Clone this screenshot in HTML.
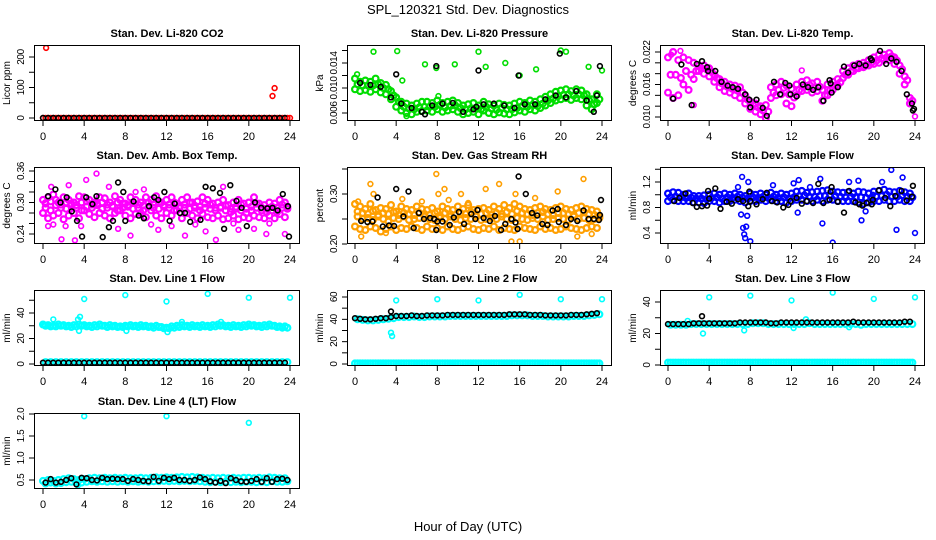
<!DOCTYPE html>
<html><head><meta charset="utf-8">
<style>
html,body{margin:0;padding:0;background:#fff;}
svg{display:block;font-family:"Liberation Sans",Arial,sans-serif;}
</style></head>
<body>
<svg id="chart" width="936" height="540" viewBox="0 0 936 540" xmlns="http://www.w3.org/2000/svg">
<rect x="0" y="0" width="936" height="540" fill="#fff"/>
<text x="468" y="14" text-anchor="middle" font-size="13">SPL_120321  Std. Dev. Diagnostics</text>
<text x="468" y="531" text-anchor="middle" font-size="13">Hour of Day (UTC)</text>
<g id="plots"></g>
</svg>
<script>
const T48=[0,0.5,1,1.5,2,2.5,3,3.5,4,4.5,5,5.5,6,6.5,7,7.5,8,8.5,9,9.5,10,10.5,11,11.5,12,12.5,13,13.5,14,14.5,15,15.5,16,16.5,17,17.5,18,18.5,19,19.5,20,20.5,21,21.5,22,22.5,23,23.5];
const T48b=[0.25,0.75,1.25,1.75,2.25,2.75,3.25,3.75,4.25,4.75,5.25,5.75,6.25,6.75,7.25,7.75,8.25,8.75,9.25,9.75,10.25,10.75,11.25,11.75,12.25,12.75,13.25,13.75,14.25,14.75,15.25,15.75,16.25,16.75,17.25,17.75,18.25,18.75,19.25,19.75,20.25,20.75,21.25,21.75,22.25,22.75,23.25,23.75];
const xTicks=[0,4,8,12,16,20,24];

// P1 CO2
const co2Red=[0,0,0,0,0,0,0,0,0,0,0,0,0,0,0,0,0,0,0,0,0,0,0,0,0,0,0,0,0,0,0,0,0,0,0,0,0,0,0,0,0,0,0,0,0,0,0,0];
const co2Black=[0,0,0,0,0,0,0,0,0,0,0,0,0,0,0,0,0,0,0,0,0,0,0,0,0,0,0,0,0,0,0,0,0,0,0,0,0,0,0,0,0,0,0,0,0,0,0,0];
const co2OutT=[0.3,22.3,22.5,24];
const co2OutV=[230,72,98,0];
// P2 pressure
const presA=[0.0115,0.011,0.0112,0.011,0.0115,0.0108,0.0105,0.0095,0.0085,0.0078,0.0075,0.0072,0.0075,0.0078,0.0078,0.0076,0.008,0.0076,0.0078,0.008,0.0076,0.0072,0.0074,0.0076,0.0072,0.0078,0.0074,0.0072,0.0075,0.0073,0.0072,0.0075,0.0078,0.0076,0.008,0.0078,0.0082,0.0086,0.009,0.0094,0.0096,0.0098,0.0095,0.0098,0.0096,0.009,0.0082,0.009];
const presB=[0.0098,0.0095,0.0097,0.0094,0.0098,0.0093,0.009,0.0082,0.007,0.0064,0.006,0.0058,0.0062,0.0063,0.0064,0.0062,0.0066,0.0062,0.0064,0.0066,0.0062,0.0058,0.006,0.0062,0.0058,0.0064,0.006,0.0058,0.0061,0.0059,0.0058,0.0061,0.0064,0.0062,0.0066,0.0064,0.0068,0.0072,0.0076,0.008,0.0082,0.0084,0.0081,0.0084,0.0082,0.0072,0.0066,0.0076];
const presC=[0.0106,0.0104,0.0104,0.0104,0.0106,0.01,0.0098,0.0088,0.0078,0.007,0.0067,0.0066,0.0069,0.007,0.007,0.007,0.0073,0.0069,0.0071,0.0072,0.0068,0.0066,0.0067,0.0068,0.0066,0.007,0.0067,0.0065,0.0068,0.0066,0.0066,0.0068,0.0071,0.007,0.0073,0.0071,0.0075,0.008,0.0083,0.0087,0.0089,0.009,0.0088,0.009,0.0088,0.008,0.0074,0.0082];
const presOutT=[0.2,1.8,4.1,4.6,6.8,7.9,8.1,9.7,12,12.7,14.6,16,17.6,20,20.5,22.7,24,5];
const presOutV=[0.0122,0.0158,0.0159,0.0112,0.0138,0.0132,0.0087,0.0138,0.0158,0.0134,0.014,0.012,0.013,0.016,0.0158,0.0134,0.0128,0.0055];
const presBlkT=[0.5,1.5,2.5,3.5,4.5,5.5,6.5,7.5,8.5,9.5,10.5,11.5,12.5,13.5,14.5,15.5,16.5,17.5,18.5,19.5,20.5,21.5,22.5,23.5,4,7.9,12,15.9,19.9,23.8,23.2,6.8,11.8];
const presBlkV=[0.0108,0.0105,0.0102,0.0085,0.0075,0.0068,0.0062,0.0072,0.0075,0.0076,0.0062,0.0066,0.0074,0.0075,0.0072,0.0068,0.0074,0.0074,0.0082,0.0088,0.0085,0.0095,0.008,0.0088,0.0122,0.0135,0.0128,0.012,0.0155,0.0135,0.0062,0.0058,0.007];
// P3 Li-820 temp
const tempA=[0.021,0.022,0.0205,0.021,0.0205,0.02,0.0195,0.0195,0.019,0.0178,0.017,0.0165,0.016,0.0158,0.0155,0.014,0.0128,0.0125,0.012,0.0122,0.0155,0.016,0.0165,0.0158,0.0152,0.016,0.0165,0.0168,0.0162,0.0165,0.015,0.016,0.0165,0.017,0.0185,0.019,0.0195,0.0198,0.02,0.0205,0.021,0.0215,0.0215,0.0218,0.021,0.0195,0.0175,0.0135];
const tempB=[0.0145,0.0135,0.014,0.016,0.015,0.017,0.0185,0.018,0.0175,0.0165,0.0155,0.0148,0.0145,0.014,0.0135,0.0125,0.0115,0.011,0.0105,0.0098,0.0135,0.014,0.0142,0.0125,0.012,0.014,0.0148,0.015,0.0145,0.0148,0.013,0.014,0.015,0.0158,0.0172,0.0178,0.0185,0.019,0.0192,0.0195,0.0198,0.02,0.0205,0.0205,0.0198,0.018,0.016,0.0125];
const tempC=[0.0178,0.0178,0.0172,0.0185,0.0178,0.0185,0.019,0.0188,0.0183,0.0172,0.0162,0.0156,0.0152,0.0149,0.0145,0.0132,0.0122,0.0118,0.0112,0.011,0.0145,0.015,0.0154,0.0142,0.0136,0.015,0.0156,0.0159,0.0154,0.0156,0.014,0.015,0.0158,0.0164,0.0178,0.0184,0.019,0.0194,0.0196,0.02,0.0204,0.0208,0.021,0.0212,0.0204,0.0188,0.0168,0.013];
const tempOutT=[2.5,13,24,0.3,1.2];
const tempOutV=[0.0122,0.0186,0.0101,0.0215,0.0222];
const tempBlkT=[0.5,1.3,2.3,2.8,3.3,3.8,3.9,4.6,5.2,5.8,6.3,6.8,7.5,7.9,8.0,8.6,9.2,9.6,10.3,10.9,11.4,11.8,11.9,12.5,13.1,13.6,14.1,14.6,15.1,15.7,15.8,15.9,16.5,17.1,17.5,18.1,18.6,19.2,19.7,19.8,20.6,21.2,21.7,22.2,22.7,23.2,23.7,23.8,23.9];
const tempBlkV=[0.0134,0.0197,0.0122,0.0198,0.0203,0.0192,0.0185,0.0185,0.0165,0.0158,0.0155,0.0152,0.0142,0.0132,0.0118,0.0132,0.0117,0.0102,0.0165,0.0142,0.0163,0.0158,0.0142,0.0138,0.016,0.0155,0.015,0.0155,0.013,0.0168,0.0162,0.0145,0.0155,0.0193,0.0182,0.0195,0.0198,0.0195,0.0208,0.0205,0.0222,0.0198,0.0208,0.0202,0.0185,0.0142,0.0125,0.0112,0.0115];
// P4 Amb box temp
const ambA=[0.305,0.31,0.315,0.3,0.31,0.305,0.3,0.312,0.31,0.305,0.3,0.31,0.308,0.3,0.312,0.305,0.298,0.31,0.305,0.3,0.31,0.305,0.312,0.3,0.305,0.31,0.298,0.305,0.31,0.3,0.302,0.31,0.305,0.298,0.3,0.305,0.295,0.3,0.305,0.298,0.3,0.31,0.298,0.295,0.3,0.298,0.305,0.3];
const ambB=[0.28,0.27,0.275,0.28,0.268,0.275,0.28,0.27,0.285,0.278,0.272,0.28,0.275,0.27,0.28,0.285,0.275,0.27,0.278,0.28,0.272,0.285,0.275,0.27,0.28,0.275,0.285,0.27,0.28,0.275,0.27,0.278,0.272,0.27,0.275,0.268,0.27,0.275,0.268,0.272,0.27,0.275,0.272,0.27,0.275,0.27,0.278,0.272];
const ambC=[0.29,0.285,0.295,0.29,0.288,0.295,0.29,0.285,0.292,0.29,0.295,0.288,0.29,0.292,0.285,0.29,0.295,0.288,0.29,0.285,0.292,0.29,0.288,0.295,0.29,0.285,0.292,0.29,0.288,0.29,0.285,0.29,0.288,0.285,0.29,0.285,0.282,0.288,0.285,0.28,0.285,0.29,0.285,0.282,0.285,0.282,0.29,0.288];
const ambD=[0.298,0.302,0.305,0.296,0.3,0.298,0.295,0.3,0.302,0.296,0.298,0.3,0.296,0.294,0.3,0.298,0.292,0.3,0.296,0.294,0.3,0.296,0.3,0.292,0.296,0.3,0.29,0.296,0.3,0.294,0.292,0.298,0.296,0.29,0.292,0.294,0.288,0.292,0.296,0.288,0.292,0.298,0.29,0.288,0.292,0.29,0.296,0.292];
const ambOutT=[0.8,2.5,1.8,3.1,4.2,5.2,7.3,8.5,9.8,11.2,13.8,16.8,17.5,20.5,21.7,23.5,15.8,6.4,0.2,1.0,2.2,9.0,12.5,19.0,22.0,0.5,3.7,10.5,14.8,18.5];
const ambOutV=[0.33,0.333,0.23,0.228,0.343,0.355,0.25,0.237,0.325,0.248,0.237,0.229,0.33,0.25,0.24,0.24,0.245,0.33,0.3,0.258,0.255,0.32,0.255,0.248,0.26,0.255,0.255,0.258,0.258,0.26];
const ambBlkT=[0.5,1.2,1.7,2.3,2.8,3.3,3.8,4.2,4.8,5.2,5.8,6.4,6.8,7.3,7.8,8.0,8.8,9.3,9.8,10.3,10.8,11.2,11.8,12.3,12.8,13.3,13.8,14.3,15.3,15.8,16.5,17.2,17.6,18.2,18.8,19.3,19.8,20.6,21.2,21.8,22.3,22.8,23.3,23.8,23.9];
const ambBlkV=[0.312,0.325,0.3,0.31,0.283,0.265,0.235,0.31,0.297,0.312,0.234,0.253,0.265,0.338,0.32,0.265,0.302,0.275,0.27,0.293,0.31,0.305,0.32,0.265,0.298,0.28,0.28,0.263,0.267,0.33,0.327,0.318,0.25,0.333,0.303,0.29,0.255,0.3,0.29,0.289,0.29,0.285,0.316,0.293,0.235];
// P5 RH
const rhA=[0.28,0.275,0.27,0.28,0.268,0.272,0.27,0.278,0.265,0.275,0.27,0.268,0.275,0.27,0.268,0.272,0.265,0.275,0.27,0.268,0.275,0.27,0.278,0.268,0.27,0.272,0.268,0.275,0.27,0.278,0.272,0.28,0.275,0.27,0.268,0.272,0.275,0.27,0.268,0.272,0.275,0.27,0.268,0.272,0.275,0.27,0.268,0.265];
const rhB=[0.235,0.23,0.228,0.235,0.232,0.225,0.23,0.235,0.228,0.232,0.23,0.235,0.232,0.228,0.235,0.23,0.232,0.228,0.235,0.23,0.228,0.232,0.235,0.23,0.228,0.232,0.23,0.235,0.228,0.232,0.23,0.228,0.235,0.232,0.23,0.228,0.235,0.23,0.232,0.228,0.23,0.235,0.232,0.23,0.228,0.232,0.235,0.232];
const rhC=[0.255,0.25,0.252,0.248,0.255,0.25,0.245,0.252,0.25,0.255,0.248,0.25,0.252,0.255,0.25,0.248,0.252,0.25,0.255,0.25,0.248,0.252,0.25,0.255,0.248,0.25,0.252,0.25,0.255,0.25,0.248,0.252,0.25,0.248,0.252,0.25,0.255,0.248,0.25,0.252,0.25,0.248,0.255,0.25,0.252,0.248,0.25,0.252];
const rhD=[0.265,0.262,0.26,0.266,0.258,0.262,0.26,0.264,0.258,0.262,0.26,0.258,0.262,0.26,0.258,0.262,0.256,0.262,0.26,0.258,0.262,0.26,0.264,0.258,0.26,0.262,0.258,0.262,0.26,0.264,0.26,0.266,0.262,0.26,0.258,0.262,0.264,0.26,0.258,0.262,0.262,0.26,0.258,0.262,0.264,0.26,0.258,0.256];
const rhOutT=[0.6,1.5,1.8,7.9,8.1,8.7,9.1,10.3,12.7,14,15.2,15.6,16,18.2,19.7,21.6,22.2,23,0.3,3.0,4.6,6.5,11.0,17.5];
const rhOutV=[0.215,0.32,0.3,0.34,0.3,0.31,0.288,0.3,0.31,0.32,0.205,0.3,0.205,0.36,0.305,0.215,0.33,0.22,0.285,0.222,0.29,0.285,0.282,0.292];
const rhBlkT=[0.6,1.2,1.7,2.2,2.7,3.3,3.8,4,4.7,5.2,5.7,6.2,6.7,7.3,7.7,7.9,8,8.5,9.2,9.6,10.1,10.6,11.3,11.7,11.9,12.5,13.1,13.6,14.2,14.6,15.2,15.6,15.8,15.9,16.6,17.2,17.7,18.2,18.7,19.2,19.7,19.8,20.5,21,21.6,22.2,22.7,23.2,23.7,23.9,23.8];
const rhBlkV=[0.246,0.244,0.245,0.293,0.235,0.237,0.236,0.31,0.255,0.305,0.232,0.262,0.25,0.252,0.25,0.228,0.245,0.245,0.238,0.253,0.264,0.24,0.26,0.25,0.268,0.252,0.246,0.256,0.228,0.24,0.25,0.243,0.23,0.335,0.3,0.262,0.257,0.24,0.238,0.267,0.27,0.244,0.238,0.25,0.246,0.267,0.25,0.25,0.248,0.288,0.258];
// P6 sample flow
const sfA=[1.02,1.04,1.03,1.0,1.02,0.98,0.98,0.99,1.0,1.02,1.0,1.02,1.0,1.02,1.0,0.98,1.02,1.0,1.02,1.0,1.03,1.0,1.02,1.0,1.02,1.05,1.06,1.03,1.04,1.05,1.06,1.07,1.05,1.04,1.03,1.04,1.02,1.05,1.04,1.02,1.05,1.06,1.08,1.05,1.04,1.06,1.04,1.02];
const sfB=[0.9,0.92,0.9,0.9,0.9,0.88,0.88,0.87,0.9,0.9,0.88,0.9,0.9,0.92,0.9,0.88,0.9,0.9,0.92,0.9,0.92,0.9,0.9,0.88,0.9,0.92,0.92,0.9,0.9,0.92,0.9,0.92,0.92,0.9,0.9,0.9,0.9,0.88,0.86,0.88,0.9,0.9,0.92,0.9,0.9,0.92,0.9,0.9];
const sfC=[0.96,0.97,0.96,0.95,0.95,0.94,0.94,0.93,0.95,0.96,0.94,0.96,0.95,0.97,0.95,0.94,0.96,0.95,0.97,0.95,0.97,0.95,0.96,0.94,0.96,0.98,0.99,0.97,0.97,0.98,0.98,0.99,0.98,0.97,0.96,0.97,0.96,0.96,0.95,0.95,0.97,0.98,1.0,0.97,0.97,0.99,0.97,0.96];
const sfOutT=[7.1,7.2,7.3,7.4,7.5,7.6,7.7,7.8,8,12.2,12.6,12.7,15,14.8,16,17.6,18.8,19.2,19.9,21.7,22.2,22.8,24,18.5,6.8,10.2,13.8,20.8];
const sfOutV=[0.69,1.28,0.48,0.38,0.32,0.5,0.67,1.2,0.27,1.18,0.72,1.23,0.55,1.25,0.25,1.2,0.6,0.74,1.0,1.39,0.45,1.27,0.4,1.22,1.12,1.15,1.12,1.2];
const sfBlkT=[0.6,1.1,1.7,2.4,2.8,3.3,3.8,3.9,4.0,4.6,5.1,5.7,6.2,6.8,7.3,7.8,7.9,8.0,8.6,9.2,9.6,10.1,10.6,11.2,11.7,11.9,12.5,13.0,13.5,14.1,14.6,15.1,15.7,15.8,15.9,16.5,17.1,17.6,18.2,18.6,18.9,19.3,19.8,19.9,20.5,21.1,21.6,22.1,22.7,23.2,23.7,23.8];
const sfBlkV=[0.9,0.95,1.02,0.87,0.81,0.82,0.83,1.06,0.94,1.1,0.78,0.89,0.86,0.93,0.9,0.82,1.05,0.9,0.85,0.93,1.03,0.9,0.88,0.8,0.84,0.9,0.95,0.86,0.9,0.87,1.17,0.87,0.92,1.05,1.12,0.89,0.72,1.06,0.88,0.85,0.83,0.87,0.85,0.92,1.07,0.95,0.82,0.98,1.06,0.91,0.97,1.14];
// P7 line 1
const l1A=[31,30.5,30,31,30.5,30,30.5,31,30.5,30,30.5,31,30,30.5,30,29.5,30,30.5,30,30.5,30,29.5,30,29,28.5,29.5,30,30.5,30,30.5,30,30.5,30,30.5,31,30.5,30,30.5,30,30.5,31,30.5,30,30.5,31,30,29.5,29.5];
const l1B=[30,29.5,29.5,30,29.5,29,29.5,30,29.5,29,29.5,30,29,29.5,29,29,29.5,29.5,29,29.5,29,28.5,29,28,28,28.5,29,29.5,29,29.5,29,29.5,29,29.5,30,29.5,29,29.5,29,29.5,30,29.5,29,29.5,30,29,28.5,28.5];
const l1Low=[1.5,1.5,1.5,1.5,1.5,1.5,1.5,1.5,1.5,1.5,1.5,1.5,1.5,1.5,1.5,1.5,1.5,1.5,1.5,1.5,1.5,1.5,1.5,1.5,1.5,1.5,1.5,1.5,1.5,1.5,1.5,1.5,1.5,1.5,1.5,1.5,1.5,1.5,1.5,1.5,1.5,1.5,1.5,1.5,1.5,1.5,1.5,1.5];
const l1Blk=[1,1,1,1,1,1,1,1,1,1,1,1,1,1,1,1,1,1,1,1,1,1,1,1,1,1,1,1,1,1,1,1,1,1,1,1,1,1,1,1,1,1,1,1,1,1,1,1];
const l1OutT=[4,8,12,16,20,24,1,3.4,3.6,3.5,8.1,12.1,13.5,17.3,0.1];
const l1OutV=[51,54,49,55,52,52,35,35,37,26,26,25,33,33,30.5];
// P8 line 2
const l2Low=[0.5,0.5,0.5,0.5,0.5,0.5,0.5,0.5,0.5,0.5,0.5,0.5,0.5,0.5,0.5,0.5,0.5,0.5,0.5,0.5,0.5,0.5,0.5,0.5,0.5,0.5,0.5,0.5,0.5,0.5,0.5,0.5,0.5,0.5,0.5,0.5,0.5,0.5,0.5,0.5,0.5,0.5,0.5,0.5,0.5,0.5,0.5,0.5];
const l2Mid=[40,39.5,39,39,39.5,40,40.5,41,42,42,42,42.5,42,42,42.5,42.5,42.5,42.5,43,43,43,43,43,43,43,43,43,43,43,43,43.5,43.5,43.5,43.5,43,43,43,42.5,42.5,42.5,42.5,42.5,43,43,43,43.5,44,44.5];
const l2Blk=[41,40.5,40,40,40.5,41,41,42,43,43,43,43.5,43,43,43.5,43.5,43.5,43.5,44,44,44,44,44,44,44,44,44,44,44,44,44.5,44.5,44.5,44.5,44,44,44,43.5,43.5,43.5,43.5,43.5,44,44,44,44.5,45,45.5];
const l2OutT=[4,8,12,16,20,24,3.5,3.6];
const l2OutV=[57,58,57,62,58,58,28,25];
const l2BlkOutT=[3.5];
const l2BlkOutV=[47];
// P9 line 3
const l3Low=[1.5,1.5,1.5,1.5,1.5,1.5,1.5,1.5,1.5,1.5,1.5,1.5,1.5,1.5,1.5,1.5,1.5,1.5,1.5,1.5,1.5,1.5,1.5,1.5,1.5,1.5,1.5,1.5,1.5,1.5,1.5,1.5,1.5,1.5,1.5,1.5,1.5,1.5,1.5,1.5,1.5,1.5,1.5,1.5,1.5,1.5,1.5,1.5];
const l3Mid=[25.5,25.5,25.5,25.5,26,26,26,26,26,26,26,26,26,26,26,26,26.5,26.5,26.5,26,26,26,26,26,26,26,26,26.5,26,26,26,26,26,26,26,26,26,25.5,26,26,26,26,26,26,26,26,26,26];
const l3Blk=[26,26,26,26,26,26.5,26.5,26.5,26.5,26.5,26.5,26.5,26.5,26.5,27,27,27,27,27,27,26.5,26.5,27,27,27,27,27,27,27,27,27,27,27,27,27,27,27.5,27,27,27,27,27,27,27,27,27,27.5,27.5];
const l3OutT=[4,8,12,16,20,24,3.4,7.4,12.2,1.9,13.4,17.6];
const l3OutV=[43,44,41,46,42,43,20,22,23.5,28,29,24];
const l3BlkOutT=[3.3];
const l3BlkOutV=[31];
// P10 line 4
const l4A=[0.48,0.5,0.48,0.5,0.52,0.54,0.52,0.5,0.52,0.54,0.55,0.54,0.55,0.54,0.55,0.54,0.55,0.54,0.54,0.55,0.54,0.55,0.56,0.55,0.56,0.55,0.56,0.57,0.56,0.57,0.56,0.55,0.54,0.55,0.54,0.55,0.54,0.55,0.54,0.55,0.55,0.54,0.55,0.54,0.56,0.55,0.54,0.54];
const l4B=[0.42,0.44,0.42,0.43,0.45,0.46,0.45,0.44,0.46,0.47,0.46,0.47,0.46,0.47,0.46,0.47,0.46,0.47,0.46,0.47,0.46,0.47,0.47,0.48,0.47,0.48,0.47,0.48,0.47,0.48,0.47,0.46,0.45,0.46,0.45,0.46,0.45,0.46,0.45,0.46,0.46,0.45,0.46,0.45,0.47,0.46,0.46,0.47];
const l4Blk=[0.44,0.52,0.44,0.46,0.5,0.54,0.4,0.55,0.54,0.5,0.49,0.55,0.52,0.53,0.52,0.52,0.48,0.52,0.5,0.48,0.47,0.57,0.48,0.55,0.52,0.55,0.5,0.5,0.48,0.5,0.56,0.52,0.47,0.44,0.48,0.43,0.54,0.5,0.47,0.46,0.48,0.52,0.46,0.54,0.46,0.52,0.53,0.5];
const l4OutT=[4,12,20,3.4];
const l4OutV=[1.95,1.95,1.8,0.38];

const C_RED="#ff0000",C_GRN="#00dd00",C_MAG="#ff00ff",C_ORG="#ff9f00",C_BLU="#0000ff",C_CYN="#00ffff",C_BLK="#000000";

const COLS=[{l:34,r:300,x0:43,x24:290},{l:347,r:612,x0:355,x24:602},{l:660,r:925,x0:668,x24:915}];
const ROWS=[{t:45,b:121},{t:167,b:244},{t:290,b:366},{t:413,b:489}];

const panels=[
 {name:"co2",title:"Stan. Dev. Li-820 CO2",ylab:"Licor ppm",c:0,r:0,d:[0,200],p:[118,57],ticks:[0,50,100,150,200],labels:["0","","100","","200"],
  series:[[T48,co2Red,C_RED,0],[T48b,co2Red,C_RED,0],[T48,co2Black,C_BLK,0],[co2OutT,co2OutV,C_RED,0]]},
 {name:"pressure",title:"Stan. Dev. Li-820 Pressure",ylab:"kPa",c:1,r:0,d:[0.006,0.014],p:[113,63],ticks:[0.006,0.008,0.010,0.012,0.014,0.016],labels:["0.006","","0.010","","0.014",""],
  series:[[T48,presA,C_GRN,1],[T48,presB,C_GRN,1],[T48b,presC,C_GRN,1],[presOutT,presOutV,C_GRN,0],[presBlkT,presBlkV,C_BLK,0]]},
 {name:"li820-temp",title:"Stan. Dev. Li-820 Temp.",ylab:"degrees C",c:2,r:0,d:[0.010,0.022],p:[117,52],ticks:[0.010,0.012,0.014,0.016,0.018,0.020,0.022],labels:["0.010","","","0.016","","","0.022"],
  series:[[T48,tempA,C_MAG,1],[T48,tempB,C_MAG,1],[T48b,tempC,C_MAG,1],[tempOutT,tempOutV,C_MAG,0],[tempBlkT,tempBlkV,C_BLK,0]]},
 {name:"amb-box-temp",title:"Stan. Dev. Amb. Box Temp.",ylab:"degrees C",c:0,r:1,d:[0.24,0.36],p:[234,171],ticks:[0.24,0.26,0.28,0.30,0.32,0.34,0.36],labels:["0.24","","","0.30","","","0.36"],
  series:[[T48,ambA,C_MAG,1],[T48,ambB,C_MAG,1],[T48b,ambC,C_MAG,1],[T48b,ambD,C_MAG,1],[ambOutT,ambOutV,C_MAG,0],[ambBlkT,ambBlkV,C_BLK,0]]},
 {name:"gas-stream-rh",title:"Stan. Dev. Gas Stream RH",ylab:"percent",c:1,r:1,d:[0.20,0.30],p:[244,194],ticks:[0.20,0.25,0.30,0.35],labels:["0.20","","0.30",""],
  series:[[T48,rhA,C_ORG,1],[T48,rhB,C_ORG,1],[T48b,rhC,C_ORG,1],[T48b,rhD,C_ORG,1],[rhOutT,rhOutV,C_ORG,0],[rhBlkT,rhBlkV,C_BLK,0]]},
 {name:"sample-flow",title:"Stan. Dev. Sample Flow",ylab:"ml/min",c:2,r:1,d:[0.4,1.2],p:[233,182],ticks:[0.4,0.6,0.8,1.0,1.2,1.4],labels:["0.4","","0.8","","1.2",""],
  series:[[T48,sfA,C_BLU,1],[T48,sfB,C_BLU,1],[T48b,sfC,C_BLU,1],[sfOutT,sfOutV,C_BLU,0],[sfBlkT,sfBlkV,C_BLK,0]]},
 {name:"line1-flow",title:"Stan. Dev. Line 1 Flow",ylab:"ml/min",c:0,r:2,d:[0,40],p:[364,313],ticks:[0,10,20,30,40,50],labels:["0","","20","","40",""],
  series:[[T48,l1A,C_CYN,1],[T48b,l1B,C_CYN,1],[T48b,l1Low,C_CYN,1],[l1OutT,l1OutV,C_CYN,0],[T48,l1Blk,C_BLK,0]]},
 {name:"line2-flow",title:"Stan. Dev. Line 2 Flow",ylab:"ml/min",c:1,r:2,d:[0,60],p:[364,297],ticks:[0,10,20,30,40,50,60],labels:["0","","20","","40","","60"],
  series:[[T48,l2Low,C_CYN,1],[T48b,l2Low,C_CYN,1],[T48b,l2Mid,C_CYN,1],[l2OutT,l2OutV,C_CYN,0],[T48,l2Blk,C_BLK,0],[l2BlkOutT,l2BlkOutV,C_BLK,0]]},
 {name:"line3-flow",title:"Stan. Dev. Line 3 Flow",ylab:"ml/min",c:2,r:2,d:[0,40],p:[365,302],ticks:[0,10,20,30,40],labels:["0","","20","","40"],
  series:[[T48,l3Low,C_CYN,1],[T48b,l3Low,C_CYN,1],[T48b,l3Mid,C_CYN,1],[l3OutT,l3OutV,C_CYN,0],[T48,l3Blk,C_BLK,0],[l3BlkOutT,l3BlkOutV,C_BLK,0]]},
 {name:"line4-flow",title:"Stan. Dev. Line 4 (LT) Flow",ylab:"ml/min",c:0,r:3,d:[0.5,2.0],p:[480,414],ticks:[0.5,1.0,1.5,2.0],labels:["0.5","1.0","1.5","2.0"],
  series:[[T48,l4A,C_CYN,1],[T48b,l4B,C_CYN,1],[l4OutT,l4OutV,C_CYN,0],[T48b,l4Blk,C_BLK,0]]}
];

const NS="http://www.w3.org/2000/svg";
const root=document.getElementById("plots");
function mk(tag,attrs,parent){const e=document.createElementNS(NS,tag);for(const k in attrs)e.setAttribute(k,attrs[k]);parent.appendChild(e);return e;}
function xScale(col,t){return col.x0+(t/24)*(col.x24-col.x0);}
function yScale(pn,v){return pn.p[0]+(v-pn.d[0])/(pn.d[1]-pn.d[0])*(pn.p[1]-pn.p[0]);}

panels.forEach(pn=>{
  const col=COLS[pn.c],row=ROWS[pn.r];
  const g=mk("g",{},root);
  
  
  const clip=mk("clipPath",{id:"clip-"+pn.name},g);
  mk("rect",{x:col.l,y:row.t,width:col.r-col.l,height:row.b-row.t},clip);
  const pts=mk("g",{"clip-path":"url(#clip-"+pn.name+")"},g);
  
  
  pn.series.forEach(s=>{
    const ts=s[0],vs=s[1],color=s[2],dense=s[3];
    const n=Math.min(ts.length,vs.length);
    for(let i=0;i<n;i++){
      const c=mk("circle",{cx:xScale(col,ts[i]).toFixed(1),cy:yScale(pn,vs[i]).toFixed(1),r:dense?2.9:2.4,fill:"none",stroke:color,"stroke-width":dense?2.2:1.6},pts);
      
      
    }
  });
  const box=mk("rect",{x:col.l+0.5,y:row.t+0.5,width:col.r-col.l-1,height:row.b-row.t-1,fill:"none",stroke:"#000","stroke-width":1},g);
  
  
  const tt=mk("text",{x:(col.l+col.r)/2,y:row.t-8,"text-anchor":"middle","font-size":11,"font-weight":"bold"},g);
  tt.textContent=pn.title;
  
  
  const xa=mk("g",{},g);
  
  
  xTicks.forEach(t=>{
    const x=xScale(col,t);
    mk("line",{x1:x,y1:row.b,x2:x,y2:row.b+5,stroke:"#000"},xa);
    const l=mk("text",{x:x,y:row.b+19,"text-anchor":"middle","font-size":11},xa);
    l.textContent=String(t);
    
    
  });
  const ya=mk("g",{},g);
  
  
  pn.ticks.forEach((v,i)=>{
    const y=yScale(pn,v);
    mk("line",{x1:col.l-5,y1:y,x2:col.l,y2:y,stroke:"#000"},ya);
    if(pn.labels[i]){
      const lx=col.l-10;
      const l=mk("text",{x:lx,y:y,"text-anchor":"middle","font-size":10,"letter-spacing":"-0.4",transform:"rotate(-90 "+lx+" "+y+")"},ya);
      l.textContent=pn.labels[i];
      
      
    }
  });
  const yl=col.l-24,ym=(row.t+row.b)/2;
  const yt=mk("text",{x:yl,y:ym,"text-anchor":"middle","font-size":10,transform:"rotate(-90 "+yl+" "+ym+")"},g);
  yt.textContent=pn.ylab;
  
  
});
</script>
</body></html>
